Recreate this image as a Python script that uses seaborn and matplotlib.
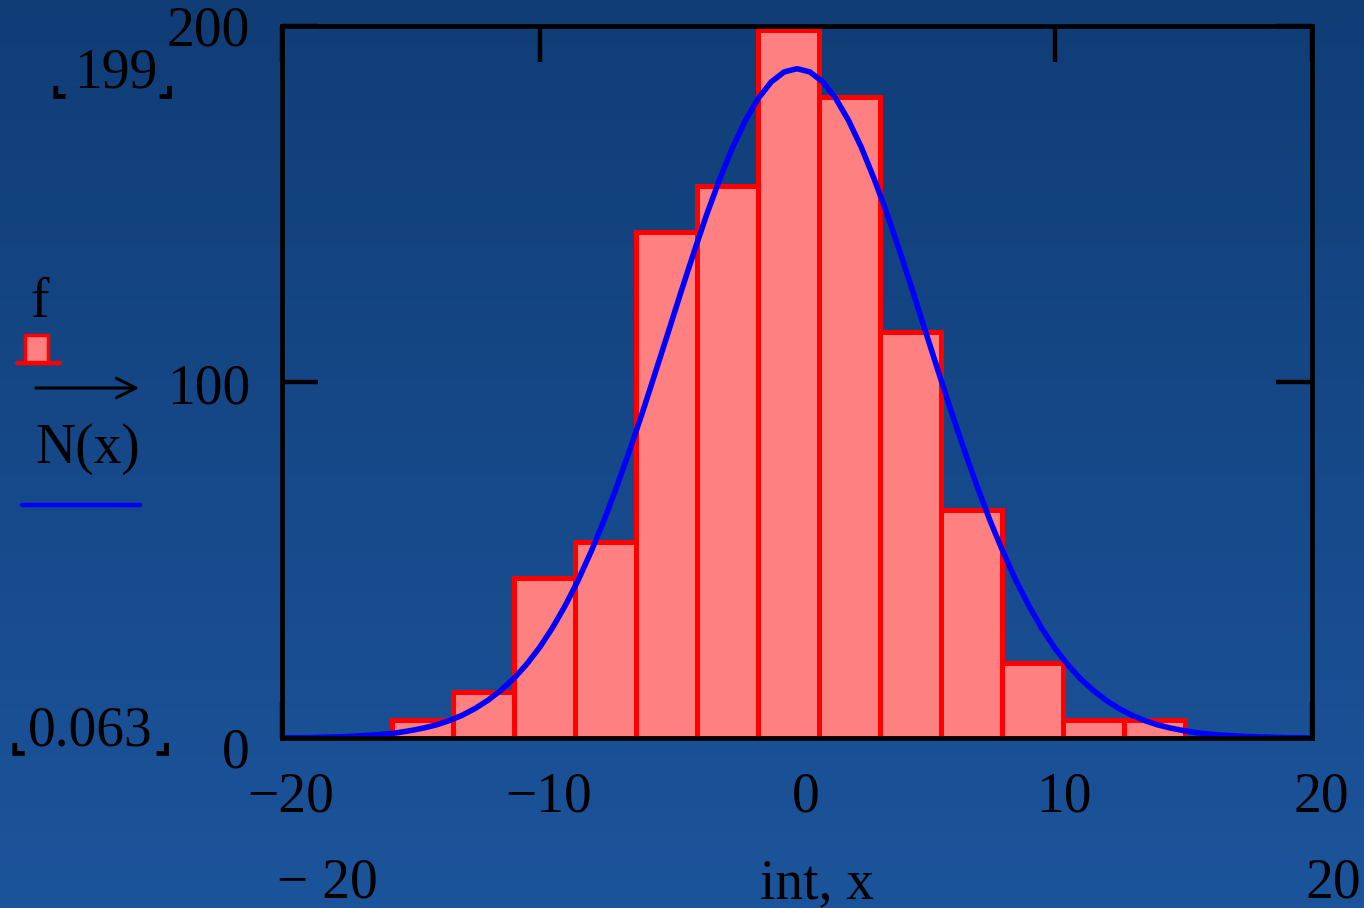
import numpy as np
import matplotlib
matplotlib.use("Agg")
import matplotlib.pyplot as plt
import matplotlib.transforms as mtransforms
from matplotlib.patches import Rectangle
from matplotlib.lines import Line2D
import seaborn as sns

# histogram intervals (int) and counts in each interval (f)
bin_edges = [-15.73, -13.36, -10.99, -8.62, -6.25, -3.88, -1.52, 0.85,
             3.22, 5.59, 7.96, 10.33, 12.70, 15.07]
counts = [5, 13, 45, 55, 142, 155, 199, 180, 114, 64, 21, 5, 5]

# normal curve N(x) every half unit from -20 to 20
curve_x = np.arange(-20, 20.5, 0.5)
curve_n = [0.063, 0.1, 0.1, 0.2, 0.3, 0.4, 0.6, 0.8, 1.1, 1.5,
           2.1, 2.8, 3.7, 4.9, 6.4, 8.3, 10.6, 13.4, 16.7, 20.7,
           25.4, 30.9, 37.2, 44.3, 52.3, 61.0, 70.6, 80.8, 91.5, 102.7,
           114.0, 125.4, 136.5, 147.2, 157.0, 165.9, 173.5, 179.7, 184.3, 187.1,
           188.0,
           187.1, 184.3, 179.7, 173.5, 165.9, 157.0, 147.2, 136.5, 125.4, 114.0,
           102.7, 91.5, 80.8, 70.6, 61.0, 52.3, 44.3, 37.2, 30.9, 25.4,
           20.7, 16.7, 13.4, 10.6, 8.3, 6.4, 4.9, 3.7, 2.8, 2.1,
           1.5, 1.1, 0.8, 0.6, 0.4, 0.3, 0.2, 0.1, 0.1, 0.063]

x_ticks = [-20, -10, 0, 10, 20]
x_tick_labels = ["\u221220", "\u221210", "0", "10", "20"]
y_ticks = [0, 100, 200]
y_tick_labels = ["0", "100", "200"]

sns.set_theme(style="white")
plt.rcParams["font.family"] = ["Liberation Serif", "DejaVu Sans"]
plt.rcParams["text.color"] = "black"

W, H = 1364, 908
fig = plt.figure(figsize=(W / 100, H / 100), dpi=100)


def px(x, y):
    return x / W, 1 - y / H


# blue background
bg = fig.add_axes([0, 0, 1, 1], zorder=-10)
grad = np.linspace(0, 1, 256).reshape(-1, 1)
top_c = np.array([0x10, 0x3D, 0x76]) / 255
bot_c = np.array([0x1C, 0x54, 0x9B]) / 255
img = top_c + (bot_c - top_c) * grad[..., None]
bg.imshow(img, aspect="auto", extent=[0, 1, 0, 1], origin="upper")
bg.axis("off")

ax = fig.add_axes([282 / W, 1 - 738 / H, (1312 - 282) / W, (738 - 26) / H])
ax.patch.set_alpha(0)

centers = [(a + b) / 2 for a, b in zip(bin_edges[:-1], bin_edges[1:])]
sns.histplot(x=centers, weights=counts, bins=bin_edges, stat="count",
             color="#FF8080", edgecolor="#FF0000", linewidth=3.6, alpha=1, ax=ax)
sns.lineplot(x=curve_x, y=curve_n, color="#0000FF", linewidth=4, ax=ax)

ax.set_xlim(-20, 20)
ax.set_ylim(0, 200)
ax.set_xlabel("")
ax.set_ylabel("")
ax.set_axisbelow(True)
ax.set_xticks(x_ticks, x_tick_labels)
ax.set_yticks(y_ticks, y_tick_labels)
ax.tick_params(axis="both", direction="in", length=26, width=3.2,
               color="black", labelcolor="black", labelsize=40,
               top=True, right=True, left=True, bottom=True)
ax.tick_params(axis="x", pad=24)
ax.tick_params(axis="y", pad=23)
for s in ax.spines.values():
    s.set_color("black")
    s.set_linewidth(3.4)
    s.set_zorder(5)

for lab in ax.get_xticklabels():
    lab.set_transform(lab.get_transform() +
                      mtransforms.ScaledTranslation(0.09, 0, fig.dpi_scale_trans))
y_shift = {"0": 0.09, "100": 0.01, "200": 0.0}
for lab in ax.get_yticklabels():
    d = y_shift.get(lab.get_text(), 0.0)
    lab.set_transform(lab.get_transform() +
                      mtransforms.ScaledTranslation(0, -d, fig.dpi_scale_trans))

fs = 40
bfs = 28
corner = dict(fontsize=bfs, va="baseline", ha="left", family=["DejaVu Sans"],
              fontweight="bold")
# axis limit placeholders with their corner marks
fig.text(*px(50, 94), "\u231e", **corner)
fig.text(*px(74, 88), "199", fontsize=fs, va="baseline", ha="left")
fig.text(*px(156, 94), "\u231f", **corner)
fig.text(*px(9, 751), "\u231e", **corner)
fig.text(*px(28, 745), "0.063", fontsize=fs, va="baseline", ha="left")
fig.text(*px(153, 751), "\u231f", **corner)

# x axis limits and axis name
fig.text(*px(277, 898), "\u2212 20", fontsize=fs, va="baseline", ha="left")
fig.text(*px(1305, 898), "20", fontsize=fs, va="baseline", ha="left")
fig.text(*px(817, 898), "int, x", fontsize=fs, va="baseline", ha="center")

# Mathcad style legend on the left
fig.text(*px(30, 317), "f", fontsize=fs, va="baseline", ha="left")
fig.text(*px(35, 463), "N(x)", fontsize=fs, va="baseline", ha="left")
fig.add_artist(matplotlib.patches.FancyArrowPatch(
    px(33, 388), px(142, 388), transform=fig.transFigure,
    arrowstyle="->,head_length=14,head_width=7", mutation_scale=1,
    color="black", linewidth=2.2))

x0, y0 = px(25, 363)
x1, y1 = px(48, 335)
fig.add_artist(Rectangle((x0, y0), x1 - x0, y1 - y0, transform=fig.transFigure,
                         facecolor="#FF8080", edgecolor="#FF0000", linewidth=2.5))
fig.add_artist(Line2D([17 / W, 60 / W], [1 - 363 / H] * 2, transform=fig.transFigure,
                      color="#FF0000", linewidth=3.2, solid_capstyle="round"))
fig.add_artist(Line2D([22 / W, 140 / W], [1 - 505 / H] * 2, transform=fig.transFigure,
                      color="#0000FF", linewidth=3.2, solid_capstyle="round"))

fig.savefig("out.png", dpi=100)
